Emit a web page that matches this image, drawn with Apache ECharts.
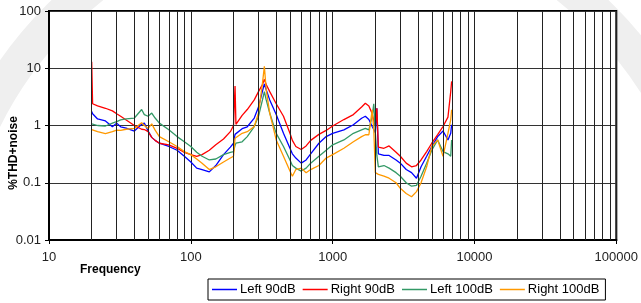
<!DOCTYPE html>
<html>
<head>
<meta charset="utf-8">
<script src="https://cdn.jsdelivr.net/npm/echarts@6/dist/echarts.min.js"></script>
<style>
  html, body { margin: 0; padding: 0; background: #fff; }
  #thd_chart { width: 641px; height: 303px; }
</style>
</head>
<body>
<div id="thd_chart"></div>
<script>
// frequencies (Hz) shared by all four measurements
var freqs = [20, 20.3, 22, 25, 28, 30, 32, 35, 40, 45,
  47, 50, 53, 56, 60, 70, 80, 90, 100, 110,
  120, 135, 150, 170, 190, 200, 205, 208, 230, 250,
  280, 300, 320, 330, 340, 360, 400, 450, 500, 520,
  550, 600, 650, 700, 800, 900, 1000, 1200, 1400, 1600,
  1700, 1800, 1900, 1950, 2000, 2050, 2100, 2300, 2500, 2800,
  3000, 3300, 3600, 3900, 4200, 4600, 5000, 5500, 6000, 6500,
  6800, 6900];

// %THD+noise
var left90 = [1.75, 1.6, 1.3, 1.2, 0.95, 1.1, 0.95, 0.9, 0.8, 1.05,
  1.1, 0.8, 0.62, 0.55, 0.49, 0.43, 0.37, 0.29, 0.23, 0.18,
  0.17, 0.155, 0.2, 0.31, 0.42, 0.49, 0.7, 0.75, 0.88, 0.95,
  1.35, 2.1, 4.0, 5.3, 4.2, 2.8, 1.55, 0.73, 0.40, 0.32,
  0.27, 0.22, 0.25, 0.32, 0.49, 0.64, 0.73, 0.84, 1.03, 1.34,
  1.45, 1.27, 0.96, 0.85, 0.75, 2.0, 0.32, 0.30, 0.30, 0.25,
  0.22, 0.17, 0.15, 0.12, 0.19, 0.29, 0.43, 0.64, 0.8, 0.56,
  0.73, 1.03];

var right90 = [13, 2.4, 2.2, 2.0, 1.8, 1.6, 1.45, 1.25, 1.0, 0.86,
  0.85, 0.78, 0.62, 0.55, 0.49, 0.46, 0.40, 0.34, 0.31, 0.29,
  0.31, 0.37, 0.46, 0.58, 0.78, 1.0, 4.9, 1.05, 1.5, 1.9,
  2.8, 3.9, 5.2, 6.4, 5.2, 3.9, 2.4, 1.45, 0.73, 0.55,
  0.43, 0.38, 0.44, 0.55, 0.70, 0.82, 0.98, 1.27, 1.55, 2.1,
  2.45, 2.2, 1.6, 1.2, 1.0, 2.0, 0.42, 0.40, 0.44, 0.34,
  0.29, 0.22, 0.19, 0.2, 0.25, 0.35, 0.49, 0.69, 0.96, 1.4,
  3.9, 5.9];

var left100 = [1.07, 1.05, 1.0, 0.98, 1.1, 1.17, 1.25, 1.3, 1.35, 1.9,
  1.55, 1.45, 1.65, 1.35, 1.1, 0.84, 0.64, 0.52, 0.43, 0.34,
  0.29, 0.25, 0.26, 0.31, 0.34, 0.35, 0.45, 0.49, 0.52, 0.64,
  0.96, 1.45, 2.8, 3.9, 2.8, 1.65, 0.73, 0.43, 0.25, 0.2,
  0.18, 0.16, 0.18, 0.22, 0.29, 0.37, 0.46, 0.56, 0.73, 0.84,
  0.89, 0.84, 1.44, 2.4, 0.73, 0.3, 0.19, 0.2, 0.18, 0.15,
  0.13, 0.10, 0.087, 0.09, 0.13, 0.22, 0.37, 0.56, 0.35, 0.32,
  0.29, 0.56];

var right100 = [0.85, 0.83, 0.78, 0.72, 0.78, 0.83, 0.82, 0.86, 0.89, 1.12,
  1.0, 0.89, 1.07, 0.83, 0.64, 0.52, 0.43, 0.35, 0.31, 0.26,
  0.22, 0.17, 0.19, 0.23, 0.27, 0.29, 0.6, 0.64, 0.73, 0.78,
  0.96, 1.65, 5.5, 10.8, 4.2, 1.65, 0.56, 0.29, 0.16, 0.13,
  0.17, 0.18, 0.15, 0.17, 0.2, 0.27, 0.31, 0.4, 0.52, 0.64,
  0.69, 0.69, 1.88, 0.83, 0.15, 0.14, 0.14, 0.13, 0.12, 0.1,
  0.08, 0.065, 0.057, 0.07, 0.1, 0.19, 0.43, 0.56, 0.29, 0.73,
  1.27, 1.88];

var seriesNames = ['Left 90dB', 'Right 90dB', 'Left 100dB', 'Right 100dB'];
var seriesColors = ['#0000ff', '#ff0000', '#339966', '#ff9900'];
var seriesValues = [left90, right90, left100, right100];

// vertical grid lines between the decades
var minorFreqs = [];
[10, 100, 1000, 10000].forEach(function (d) {
  for (var k = 2; k <= 9; k++) minorFreqs.push(k * d);
});

var font = '"Liberation Sans", Arial, sans-serif';

var chart = echarts.init(document.getElementById('thd_chart'));

var series = seriesValues.map(function (vals, i) {
  return {
    name: seriesNames[i],
    type: 'line',
    data: freqs.map(function (f, j) { return [f, vals[j]]; }),
    symbol: 'none',
    z: 3,
    lineStyle: { color: seriesColors[i], width: 1.3 },
    itemStyle: { color: seriesColors[i] }
  };
});

series.unshift({
  name: 'grid',
  type: 'line',
  data: [],
  silent: true,
  z: 1,
  markLine: {
    silent: true,
    symbol: 'none',
    label: { show: false },
    animation: false,
    lineStyle: { color: '#222', width: 1, type: 'solid' },
    data: minorFreqs.map(function (f) { return { xAxis: f }; })
  }
});

chart.setOption({
  animation: false,
  backgroundColor: '#fff',
  graphic: [
    {
      type: 'circle', z: -10, silent: true,
      shape: { cx: 330, cy: 290, r: 385 },
      style: { fill: 'none', stroke: '#efefef', lineWidth: 34 }
    },
    {
      // y axis title, rotated
      type: 'text',
      x: 14, y: 153,
      rotation: Math.PI / 2,
      style: {
        text: '%THD+noise',
        fontFamily: font, fontSize: 12, fontWeight: 'bold',
        fill: '#000', align: 'center', verticalAlign: 'middle'
      }
    }
  ],
  grid: {
    left: 49, right: 21, top: 11, bottom: 63,
    show: true,
    backgroundColor: '#fff',
    borderColor: '#000',
    borderWidth: 2
  },
  legend: {
    data: seriesNames,
    left: 208,
    top: 279,
    orient: 'horizontal',
    borderColor: '#000',
    borderWidth: 1,
    borderRadius: 0,
    padding: [4, 6, 4, 4],
    itemGap: 7,
    itemWidth: 25,
    itemHeight: 1.5,
    icon: 'rect',
    textStyle: { fontFamily: font, fontSize: 13, color: '#000', padding: [0, 0, 0, -2] }
  },
  xAxis: {
    type: 'log',
    logBase: 10,
    min: 10,
    max: 100000,
    axisLine: { show: true, lineStyle: { color: '#000', width: 2 } },
    axisTick: { show: true, length: 4, lineStyle: { color: '#000', width: 1 } },
    axisLabel: { fontFamily: font, fontSize: 13, color: '#222', margin: 11,
      formatter: function (v) { return String(v); } },
    splitLine: { show: true, lineStyle: { color: '#222', width: 1 } }
  },
  yAxis: {
    type: 'log',
    logBase: 10,
    min: 0.01,
    max: 100,
    axisLine: { show: true, lineStyle: { color: '#000', width: 2 } },
    axisTick: { show: true, length: 4, lineStyle: { color: '#000', width: 1 } },
    axisLabel: { fontFamily: font, fontSize: 13, color: '#222', margin: 8,
      formatter: function (v) { return String(+v.toPrecision(3)); } },
    splitLine: { show: true, lineStyle: { color: '#333', width: 1 } }
  },
  title: [
    {
      text: 'Frequency',
      left: 80, top: 264,
      padding: 0,
      textStyle: { fontFamily: font, fontSize: 12, fontWeight: 'bold', color: '#000' }
    }
  ],
  series: series
});
</script>
</body>
</html>
